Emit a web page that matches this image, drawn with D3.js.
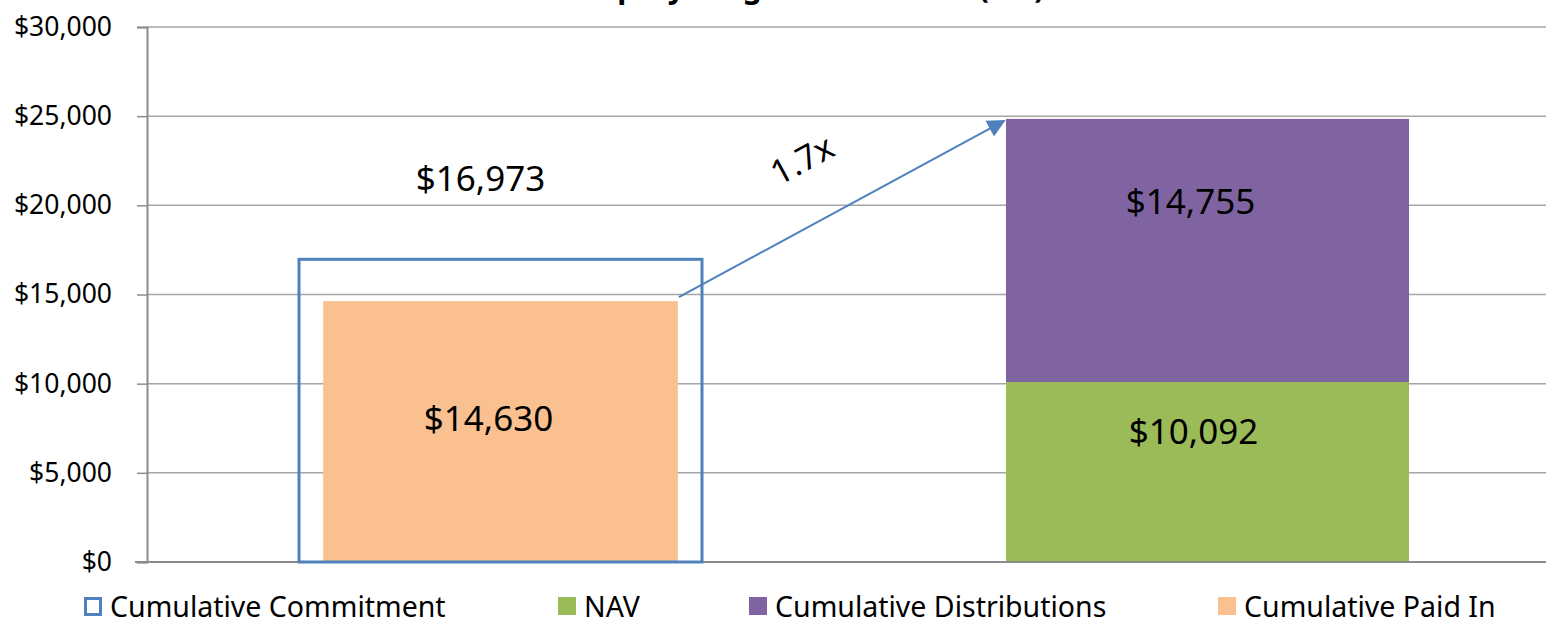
<!DOCTYPE html>
<html>
<head>
<meta charset="utf-8">
<script src="https://cdn.jsdelivr.net/npm/d3@7"></script>
<style>
  html, body { margin: 0; padding: 0; background: #fff; }
  svg { display: block; font-family: "Noto Sans", Lato, sans-serif; }
</style>
</head>
<body>
<svg id="chart" width="1546" height="619"></svg>
<script>
// Program totals by column
const categories = ["Capital Called", "Total Value"];
const commitment = [16973, null];
const paidIn = [14630, null];
const nav = [null, 10092];
const distributions = [null, 14755];
const yTicks = [0, 5000, 10000, 15000, 20000, 25000, 30000];
const legendLabels = ["Cumulative Commitment", "NAV", "Cumulative Distributions", "Cumulative Paid In"];
const titleText = "Private Equity Program Overview ($M)";

const colors = {
  commitment: "#4F81BD",
  nav: "#9BBB59",
  distributions: "#8064A2",
  paidIn: "#FAC090",
  grid: "#A6A6A6",
  axis: "#8C8C8C"
};

const W = 1546, H = 619;
const plot = { left: 147, right: 1561, top: 27, bottom: 562 };
const FONT = "'Noto Sans', Lato, sans-serif";

const svg = d3.select("#chart");

const x = d3.scaleBand()
  .domain(categories)
  .range([plot.left, plot.right])
  .paddingInner(0.43)
  .paddingOuter(0.215);

const y = d3.scaleLinear()
  .domain([0, 30000])
  .range([plot.bottom, plot.top]);

const money = d3.format("$,");

// title sits above the plotting area
svg.append("text")
  .attr("x", 760)
  .attr("y", -2)
  .attr("text-anchor", "middle")
  .attr("font-size", 30)
  .attr("font-weight", "bold")
  .attr("fill", "#000")
  .text(titleText);

// horizontal gridlines
svg.append("g")
  .selectAll("line")
  .data(yTicks.filter(d => d > 0))
  .join("line")
  .attr("x1", plot.left)
  .attr("x2", W)
  .attr("y1", d => y(d))
  .attr("y2", d => y(d))
  .attr("stroke", colors.grid)
  .attr("stroke-width", 1.5);

// y axis
const yAxis = svg.append("g")
  .attr("transform", `translate(${plot.left},0)`)
  .call(d3.axisLeft(y).tickValues(yTicks).tickFormat(money).tickSize(10).tickPadding(25));
yAxis.select(".domain").attr("stroke", colors.axis).attr("stroke-width", 2);
yAxis.selectAll(".tick line").attr("stroke", colors.axis).attr("stroke-width", 1.5);
yAxis.selectAll(".tick text")
  .attr("font-size", 26.5)
  .attr("font-family", FONT)
  .attr("fill", "#000");

const c0 = categories[0], c1 = categories[1];
const bw = x.bandwidth();
const innerW = bw * 0.88;

// cumulative paid-in bar
const paidX = x(c0) + (bw - innerW) / 2;
svg.append("rect")
  .attr("x", paidX)
  .attr("y", y(paidIn[0]))
  .attr("width", innerW)
  .attr("height", y(0) - y(paidIn[0]))
  .attr("fill", colors.paidIn);

// stacked NAV + distributions
const stackData = [
  { key: "nav", lo: 0, hi: nav[1], color: colors.nav },
  { key: "distributions", lo: nav[1], hi: nav[1] + distributions[1], color: colors.distributions }
];
svg.append("g")
  .selectAll("rect")
  .data(stackData)
  .join("rect")
  .attr("x", x(c1))
  .attr("y", d => y(d.hi))
  .attr("width", bw)
  .attr("height", d => y(d.lo) - y(d.hi))
  .attr("fill", d => d.color);

// bottom axis line
svg.append("line")
  .attr("x1", plot.left - 12)
  .attr("x2", W)
  .attr("y1", plot.bottom)
  .attr("y2", plot.bottom)
  .attr("stroke", colors.axis)
  .attr("stroke-width", 2);

// cumulative commitment outline
svg.append("rect")
  .attr("x", x(c0))
  .attr("y", y(commitment[0]))
  .attr("width", bw)
  .attr("height", y(0) - y(commitment[0]))
  .attr("fill", "none")
  .attr("stroke", colors.commitment)
  .attr("stroke-width", 3);

// value labels
const labelFont = 35;
const labels = [
  { text: money(commitment[0]), cx: x(c0) + bw / 2 - 20, cy: y(commitment[0]) - 82 },
  { text: money(paidIn[0]), cx: paidX + innerW / 2 - 12, cy: (y(paidIn[0]) + y(0)) / 2 - 14 },
  { text: money(distributions[1]), cx: x(c1) + bw / 2 - 17, cy: (y(nav[1]) + y(nav[1] + distributions[1])) / 2 - 50 },
  { text: money(nav[1]), cx: x(c1) + bw / 2 - 14, cy: (y(0) + y(nav[1])) / 2 - 42 }
];
svg.append("g")
  .selectAll("text")
  .data(labels)
  .join("text")
  .attr("x", d => d.cx)
  .attr("y", d => d.cy)
  .attr("text-anchor", "middle")
  .attr("dominant-baseline", "central")
  .attr("font-size", labelFont)
  .attr("fill", "#000")
  .text(d => d.text);

// growth arrow from paid-in to total value
const total = nav[1] + distributions[1];
const multiple = total / paidIn[0];
const defs = svg.append("defs");
defs.append("marker")
  .attr("id", "arrowhead")
  .attr("viewBox", "0 0 10 10")
  .attr("refX", 9)
  .attr("refY", 5)
  .attr("markerWidth", 22)
  .attr("markerHeight", 18)
  .attr("markerUnits", "userSpaceOnUse")
  .attr("orient", "auto")
  .append("path")
  .attr("d", "M0,0 L10,5 L0,10 Z")
  .attr("fill", colors.commitment);

const ax1 = paidX + innerW + 1, ay1 = y(paidIn[0]) - 4;
const ax2 = x(c1) - 2, ay2 = y(total) + 2;
svg.append("line")
  .attr("x1", ax1).attr("y1", ay1)
  .attr("x2", ax2).attr("y2", ay2)
  .attr("stroke", colors.commitment)
  .attr("stroke-width", 2)
  .attr("marker-end", "url(#arrowhead)");

const ang = Math.atan2(ay2 - ay1, ax2 - ax1);
const t = 0.47;
const mx = ax1 + (ax2 - ax1) * t, my = ay1 + (ay2 - ay1) * t;
const off = 63;
const lx = mx + off * Math.sin(ang), ly = my - off * Math.cos(ang);
svg.append("text")
  .attr("transform", `translate(${lx},${ly}) rotate(${ang * 180 / Math.PI})`)
  .attr("text-anchor", "middle")
  .attr("dominant-baseline", "central")
  .attr("font-size", 34)
  .attr("fill", "#000")
  .text(d3.format(".1f")(multiple) + "x");

// legend
const legendItems = [
  { label: legendLabels[0], x: 84, fill: "#fff", stroke: colors.commitment },
  { label: legendLabels[1], x: 558, fill: colors.nav, stroke: "none" },
  { label: legendLabels[2], x: 749, fill: colors.distributions, stroke: "none" },
  { label: legendLabels[3], x: 1218, fill: colors.paidIn, stroke: "none" }
];
const legendY = 606;
const lg = svg.append("g")
  .selectAll("g")
  .data(legendItems)
  .join("g")
  .attr("transform", d => `translate(${d.x},${legendY})`);
lg.append("rect")
  .attr("x", d => d.stroke === "none" ? 0 : 1.5)
  .attr("y", d => d.stroke === "none" ? -9 : -7.5)
  .attr("width", d => d.stroke === "none" ? 18 : 15)
  .attr("height", d => d.stroke === "none" ? 18 : 16)
  .attr("fill", d => d.fill)
  .attr("stroke", d => d.stroke)
  .attr("stroke-width", 3);
lg.append("text")
  .attr("x", 26)
  .attr("y", 0)
  .attr("dominant-baseline", "central")
  .attr("font-size", 28.5)
  .attr("fill", "#000")
  .text(d => d.label);
</script>
</body>
</html>
